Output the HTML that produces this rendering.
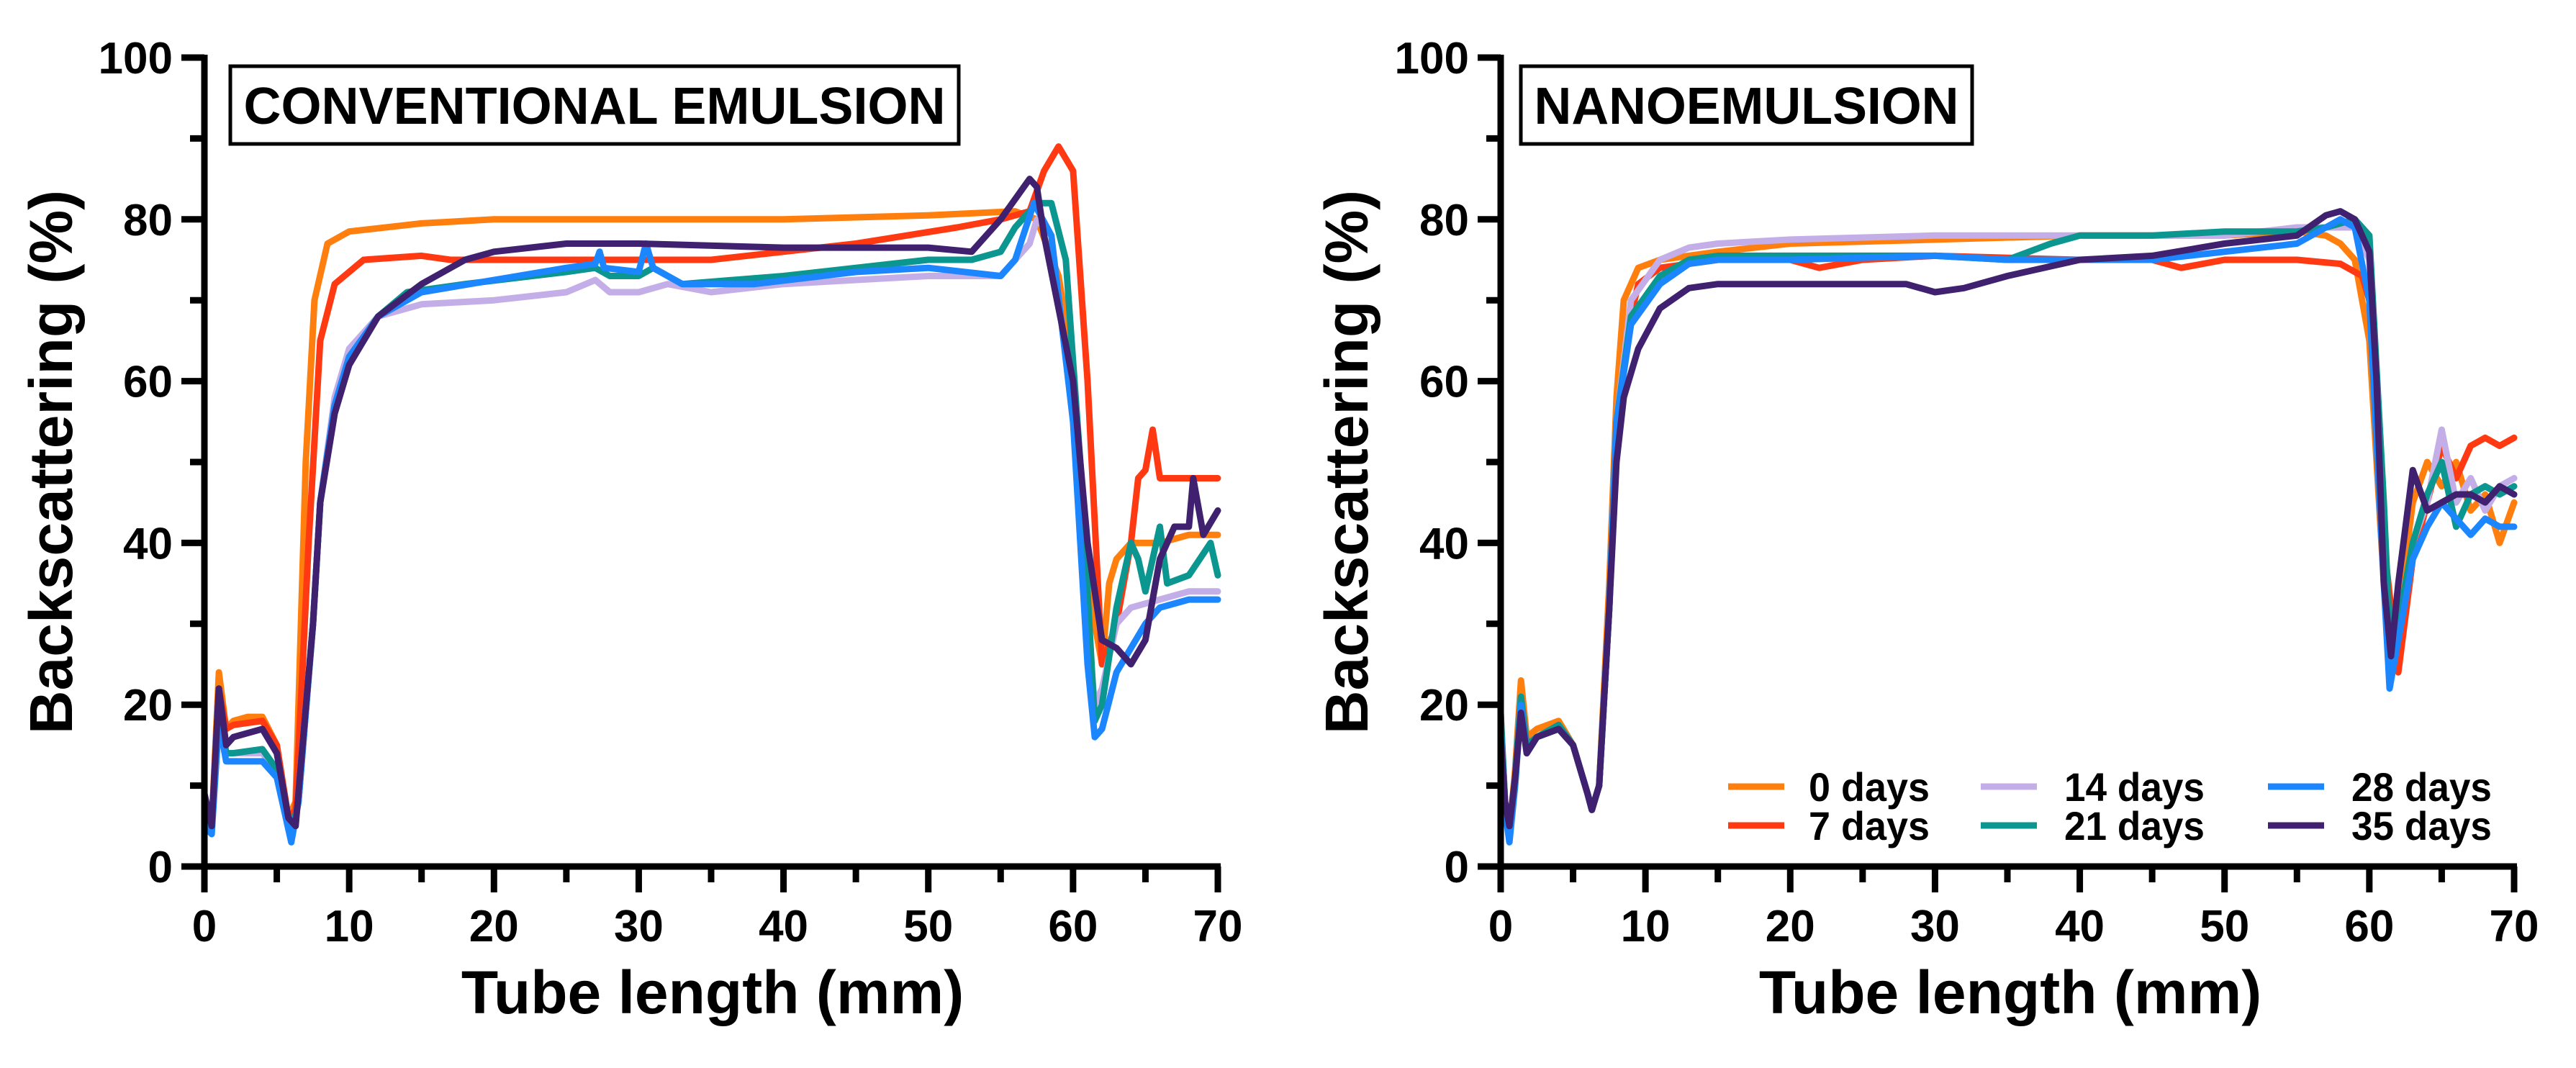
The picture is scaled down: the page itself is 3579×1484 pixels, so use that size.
<!DOCTYPE html>
<html><head><meta charset="utf-8"><style>
html,body{margin:0;padding:0;background:#fff;}
svg{display:block;font-family:"Liberation Sans",Arial,sans-serif;font-weight:bold;}
</style></head><body>
<svg id="chart" width="3579" height="1484" viewBox="0 0 3579 1484" xmlns="http://www.w3.org/2000/svg"></svg>
<script>
const xTicks=[0,10,20,30,40,50,60,70];
const yTicks=[0,20,40,60,80,100];
const seriesLabels=["0 days","7 days","14 days","21 days","28 days","35 days"];
const seriesColors=["#ff7f0e","#ff3a12","#c4aee8","#0b9690","#1c86ff","#3f216f"];

const convOrange=[[0,8],[0.5,5],[1,24],[1.5,17],[2,18],[3,18.5],[4,18.5],[5,15],[5.8,6],[6.3,8],[7,50],[7.6,70],[8.5,77],[10,78.5],[15,79.5],[20,80],[30,80],[40,80],[50,80.5],[56,81],[57.5,80],[59,73],[60,62],[61,35],[62,25],[62.5,35],[63,38],[64,40],[66,40],[68,41],[70,41]];
const convRed=[[0,7],[0.5,5],[1,22],[1.5,17],[2,17.5],[4,18],[5,15],[5.8,6],[6.3,7],[7.2,40],[8,65],[9,72],[11,75],[15,75.5],[17,75],[25,75],[35,75],[45,77],[52,79],[55,80],[57,81],[58,86],[59,89],[60,86],[61,60],[62,25],[63,30],[64,40],[64.5,48],[65,49],[65.5,54],[66,48],[68,48],[70,48]];
const convLav=[[0,6],[0.5,5],[1,20],[1.5,14],[2,14],[4,14],[5,12],[5.8,5],[6.3,5],[7.5,30],[8,45],[9,58],[10,64],[12,68],[15,69.5],[20,70],[25,71],[27,72.5],[28,71],[30,71],[32,72],[35,71],[40,72],[50,73],[55,73],[57,77],[57.5,80],[58.5,78],[60,55],[61,30],[61.5,20],[62,22],[63,30],[64,32],[66,33],[68,34],[70,34]];
const convTeal=[[0,6],[0.5,5],[1,20],[1.5,14],[2,14],[4,14.5],[5,12],[6,4],[6.5,8],[7.5,30],[8,45],[9,57],[10,63],[12,68],[14,71],[18,72],[25,73.5],[27,74],[28,73],[30,73],[31,74],[33,72],[40,73],[45,74],[50,75],[53,75],[55,76],[56,79],[57.5,82],[58.5,82],[59.5,75],[60.5,50],[61.5,18],[62,20],[63,32],[64,40],[64.5,38],[65,34],[66,42],[66.5,35],[68,36],[69.5,40],[70,36]];
const convBlue=[[0,5],[0.5,4],[1,18],[1.5,13],[2,13],[4,13],[5,11],[6,3],[6.5,8],[7.5,30],[8,45],[9,57],[10,63],[12,68],[15,71],[20,72.5],[25,74],[27,74.5],[27.3,76],[27.6,74],[30,73.5],[30.5,77],[31,74],[33,72],[38,72],[45,73.5],[50,74],[55,73],[56,75],[57.3,82],[58.5,78],[60,55],[61,25],[61.5,16],[62,17],[63,24],[64,27],[65,30],[66,32],[68,33],[70,33]];
const convPurple=[[0,9],[0.5,5],[1,22],[1.5,15],[2,16],[4,17],[5,14],[5.8,6],[6.3,5],[7.5,30],[8,45],[9,56],[10,62],[12,68],[15,72],[18,75],[20,76],[25,77],[30,77],[40,76.5],[50,76.5],[53,76],[55,80],[57,85],[57.5,84],[58,78],[60,60],[61,40],[62,28],[63,27],[64,25],[65,28],[66,38],[67,42],[68,42],[68.3,48],[69,41],[70,44]];

const nanoOrange=[[0,19],[0.3,8],[0.6,4],[1,12],[1.4,23],[1.8,16],[2.5,17],[4,18],[5,15],[6,9],[6.3,7],[6.8,10],[7.5,35],[8,58],[8.5,70],[9.5,74],[11,75],[15,76],[20,77],[30,77.5],[40,78],[50,78],[55,78.5],[57,78],[58,77],[59,75],[60,65],[61,35],[61.8,28],[62.5,38],[63,45],[64,50],[65,47],[66,50],[67,44],[68,46],[69,40],[70,45]];
const nanoRed=[[0,18],[0.3,8],[0.6,4],[1,11],[1.4,21],[1.8,15],[2.5,16],[4,17.5],[5,15],[6,9],[6.3,7],[6.8,10],[7.5,32],[8,55],[9,68],[9.5,72],[11,74],[15,75],[20,75],[22,74],[25,75],[30,75.5],[40,75],[45,75],[47,74],[50,75],[55,75],[58,74.5],[59.5,73],[60,70],[61,40],[62,24],[63,38],[64,45],[65,52],[66,48],[67,52],[68,53],[69,52],[70,53]];
const nanoLav=[[0,18],[0.3,8],[0.6,4],[1,11],[1.4,21],[1.8,15],[2.5,16],[4,17.5],[5,15],[6,9],[6.3,7],[6.8,10],[7.5,32],[8,55],[9,70],[11,75],[13,76.5],[15,77],[20,77.5],[30,78],[40,78],[50,78],[55,79],[57,79],[59,79],[60,75],[61,40],[61.5,25],[62,30],[63,40],[64,45],[65,54],[66,45],[67,48],[68,44],[69,47],[70,48]];
const nanoTeal=[[0,19],[0.3,8],[0.6,4],[1,11],[1.4,21],[1.8,15],[2.5,16],[4,17.5],[5,15],[6,9],[6.3,7],[6.8,10],[7.5,32],[8,55],[9,68],[11,73],[13,75],[15,75.5],[20,75.5],[30,75.5],[35,75],[38,77],[40,78],[45,78],[50,78.5],[55,78.5],[57,79],[59,80],[60,78],[61,45],[61.5,25],[62,30],[63,40],[64,46],[65,50],[66,42],[67,46],[68,47],[69,46],[70,47]];
const nanoBlue=[[0,17],[0.3,7],[0.6,3],[1,10],[1.4,20],[1.8,14],[2.5,16],[4,17],[5,15],[6,9],[6.3,7],[6.8,10],[7.5,32],[8,55],[9,67],[11,72],[13,74.5],[15,75],[20,75],[30,75.5],[35,75],[40,75],[45,75],[50,76],[55,77],[57,79],[58,80],[59,79],[60,70],[61,35],[61.4,22],[62,28],[63,38],[64,42],[65,45],[66,43],[67,41],[68,43],[69,42],[70,42]];
const nanoPurple=[[0,16],[0.3,8],[0.6,5],[1,11],[1.4,19],[1.8,14],[2.5,16],[4,17],[5,15],[6,9],[6.3,7],[6.8,10],[7.5,32],[8,50],[8.5,58],[9.5,64],[11,69],[13,71.5],[15,72],[20,72],[25,72],[28,72],[30,71],[32,71.5],[35,73],[40,75],[45,75.5],[50,77],[55,78],[57,80.5],[58,81],[59,80],[60,76],[60.5,60],[61,35],[61.5,26],[62,35],[63,49],[64,44],[65,45],[66,46],[67,46],[68,45],[69,47],[70,46]];

const NS="http://www.w3.org/2000/svg";
const svg=document.getElementById("chart");
function mk(tag,attrs,parent){const e=document.createElementNS(NS,tag);for(const k in attrs)e.setAttribute(k,attrs[k]);(parent||svg).appendChild(e);return e;}

function drawPanel(cfg){
  const g=mk("g",{});
  
  
  const x0=cfg.x0,x1=cfg.x1,yb=1204,yt=80;
  const sx=v=>x0+(v/70)*(x1-x0);
  const sy=v=>yb-(v/100)*(yb-yt);
  const lines=mk("g",{},g);
  
  
  cfg.series.forEach((s,i)=>{
    const d=s.map((p,j)=>(j?"L":"M")+sx(p[0]).toFixed(1)+","+sy(p[1]).toFixed(1)).join("");
    const p=mk("path",{d:d,fill:"none",stroke:seriesColors[i],"stroke-width":9,"stroke-linejoin":"round","stroke-linecap":"round"},lines);
    
    
  });
  const ax=mk("g",{stroke:"#000","stroke-width":9,fill:"none"},g);
  
  
  mk("line",{x1:x0,y1:yb,x2:x0,y2:yt-4},ax);
  mk("line",{x1:x0-30,y1:yb,x2:x1+4,y2:yb},ax);
  for(let v=0;v<=70;v+=5){const major=v%10===0;mk("line",{x1:sx(v),y1:yb,x2:sx(v),y2:yb+(major?36:22)},ax);}
  for(let v=0;v<=100;v+=10){const major=v%20===0;mk("line",{x1:x0,y1:sy(v),x2:x0-(major?32:20),y2:sy(v)},ax);}
  xTicks.forEach(v=>{const t=mk("text",{x:sx(v),y:1308,"text-anchor":"middle","font-size":62},g);t.textContent=v;
    
    });
  yTicks.forEach(v=>{const t=mk("text",{x:x0-44,y:sy(v)+22,"text-anchor":"end","font-size":62},g);t.textContent=v;
    
    });
  const xt=mk("text",{x:cfg.xtx,y:1408,"text-anchor":"middle","font-size":84},g);xt.textContent="Tube length (mm)";
  
  
  const yt2=mk("text",{x:0,y:0,"text-anchor":"middle","font-size":84,transform:"translate("+cfg.ytx+",642) rotate(-90)"},g);yt2.textContent="Backscattering (%)";
  
  
  const bx=mk("rect",{x:cfg.bx,y:92,width:cfg.bw,height:108,fill:"#fff",stroke:"#000","stroke-width":5},g);
  
  
  const bt=mk("text",{x:cfg.bx+cfg.bw/2,y:172,"text-anchor":"middle","font-size":72,textLength:cfg.tl,lengthAdjust:"spacingAndGlyphs"},g);bt.textContent=cfg.title;
  
  
  return {sx,sy,g};
}
drawPanel({name:"conventional-emulsion-panel",x0:284,x1:1692,xtx:990,ytx:100,bx:320,bw:1012,tl:975,title:"CONVENTIONAL EMULSION",
  series:[convOrange,convRed,convLav,convTeal,convBlue,convPurple]});
const right=drawPanel({name:"nanoemulsion-panel",x0:2085,x1:3493,xtx:2793,ytx:1900,bx:2113,bw:627,tl:590,title:"NANOEMULSION",
  series:[nanoOrange,nanoRed,nanoLav,nanoTeal,nanoBlue,nanoPurple]});
const leg=mk("g",{},right.g);


const colX=[2401,2752,3151], textX=[2513,2868,3267], textW=[[168,168],[195,195],[195,195]], rowY=[1093,1147];
seriesLabels.forEach((lab,i)=>{
  const c=Math.floor(i/2), r=i%2;
  const e=mk("g",{},leg);
  
  
  mk("line",{x1:colX[c],y1:rowY[r],x2:colX[c]+78,y2:rowY[r],stroke:seriesColors[i],"stroke-width":9},e);
  const t=mk("text",{x:textX[c],y:rowY[r]+20,"font-size":56,textLength:textW[c][r],lengthAdjust:"spacingAndGlyphs"},e);
  t.textContent=lab;
});
</script>
</body></html>
